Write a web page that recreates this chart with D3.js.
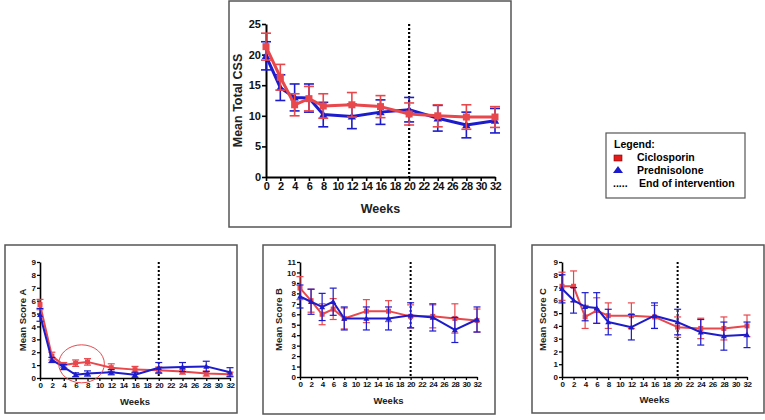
<!DOCTYPE html>
<html><head><meta charset="utf-8">
<script src="https://cdn.jsdelivr.net/npm/d3@7"></script>
<style>body{margin:0;background:#fff;font-family:Arial,"Liberation Sans",sans-serif;}</style>
</head><body>
<svg id="c" width="765" height="420"></svg>
<script>
const weeks = [0,2,4,6,8,12,16,20,24,28,32];
const xTicks = [0,2,4,6,8,10,12,14,16,18,20,22,24,26,28,30,32];
const interventionEnd = 20;

const cssCiclo   = [21.3,16.3,11.8,12.8,11.6,11.8,11.5,10.3,10.0,9.8,9.8];
const cssCicloE  = [2.2,2.1,1.8,2.0,2.0,2.0,1.8,1.8,1.8,2.0,1.7];
const cssPred    = [19.8,14.6,13.0,12.9,10.2,9.9,10.6,11.0,9.6,8.5,9.2];
const cssPredE   = [2.3,2.1,2.2,2.3,2.0,2.0,2.0,2.0,2.1,2.1,2.0];
const cssTicks   = [0,5,10,15,20,25];

const aCiclo  = [5.7,1.7,1.0,1.15,1.25,0.8,0.65,0.6,0.5,0.35,0.3];
const aCicloE = [0.4,0.3,0.2,0.25,0.25,0.3,0.25,0.25,0.2,0.2,0.15];
const aPred   = [4.9,1.4,0.85,0.25,0.35,0.45,0.25,0.8,0.85,0.9,0.45];
const aPredE  = [0.5,0.2,0.2,0.15,0.2,0.2,0.2,0.4,0.35,0.4,0.35];
const aTicks  = [0,1,2,3,4,5,6,7,8,9];

const bCiclo  = [8.5,7.3,6.0,6.5,5.6,6.3,6.3,5.8,5.8,5.6,5.4];
const bCicloE = [1.1,1.1,1.0,1.0,1.0,1.1,1.0,1.1,1.1,1.4,1.1];
const bPred   = [7.7,7.2,6.7,7.2,5.6,5.6,5.6,5.9,5.7,4.5,5.5];
const bPredE  = [1.1,1.2,1.3,1.3,1.1,1.1,1.1,1.2,1.3,1.2,1.2];
const bTicks  = [0,1,2,3,4,5,6,7,8,9,10,11];

const cCiclo  = [7.1,7.1,4.7,5.2,4.8,4.8,4.7,3.9,3.8,3.8,4.0];
const cCicloE = [1.1,1.2,0.9,1.0,1.0,1.0,0.9,0.8,0.8,0.9,0.85];
const cPred   = [6.9,6.0,5.5,5.4,4.3,3.9,4.8,4.3,3.5,3.2,3.3];
const cPredE  = [1.1,1.0,1.1,1.2,1.0,1.0,1.0,1.0,1.0,1.1,1.0];
const cTicks  = [0,1,2,3,4,5,6,7,8,9];

const legendTitle = "Legend:";
const legendLabels = ["Ciclosporin","Prednisolone","End of intervention"];

const RED = "#e8474c", BLUE = "#1c1ccc";
const svg = d3.select("#c");

function panel(o) {
  // frame
  svg.append("rect").attr("x", o.box[0]).attr("y", o.box[1])
    .attr("width", o.box[2]-o.box[0]).attr("height", o.box[3]-o.box[1])
    .attr("fill","none").attr("stroke","#555").attr("stroke-width",1.5);
  const x = d3.scaleLinear().domain([0,32]).range([o.x0, o.x1]);
  const y = d3.scaleLinear().domain([0, o.ymax]).range([o.y0, o.y1]);
  const g = svg.append("g");
  // axes
  const xa = g.append("g").attr("transform",`translate(0,${o.y0})`)
    .call(d3.axisBottom(x).tickValues(xTicks).tickSize(o.tick).tickPadding(1).tickSizeOuter(0));
  const ya = g.append("g").attr("transform",`translate(${o.x0},0)`)
    .call(d3.axisLeft(y).tickValues(o.yTicks).tickSize(o.tick).tickPadding(1).tickSizeOuter(0));
  [xa,ya].forEach(a=>{
    a.select(".domain").attr("stroke","#000").attr("stroke-width",o.aw);
    a.selectAll(".tick line").attr("stroke","#000").attr("stroke-width",o.aw*0.8);
    a.selectAll("text").attr("font-family","Arial, Liberation Sans").attr("font-weight","bold")
      .attr("font-size",o.fs).attr("fill","#111");
  });
  xa.selectAll("text").attr("dy","0.75em").attr("letter-spacing", o.ls);
  // titles
  g.append("text").attr("x",(o.x0+o.x1)/2).attr("y",o.wy).attr("text-anchor","middle")
    .attr("font-weight","bold").attr("font-size",o.tfs).attr("fill","#222").text("Weeks");
  g.append("text").attr("transform",`translate(${o.ylx},${(o.y0+o.y1)/2}) rotate(-90)`)
    .attr("text-anchor","middle").attr("font-weight","bold").attr("font-size",o.tfs).attr("fill","#222").text(o.ylabel);
  // dotted line
  g.append("line").attr("x1",x(interventionEnd)).attr("x2",x(interventionEnd))
    .attr("y1",y(o.ymax)).attr("y2",y(0)).attr("stroke","#000").attr("stroke-width",o.dw)
    .attr("stroke-dasharray",o.dash);
  // series
  const series = [
    {v:o.pred, e:o.predE, c:BLUE, m:"tri"},
    {v:o.ciclo, e:o.cicloE, c:RED, m:"sq"}
  ];
  const order = o.redOnTop ? series : [series[1], series[0]];
  order.forEach(s=>{
    const sg = g.append("g");
    const line = d3.line().x((d,i)=>x(weeks[i])).y(d=>y(d));
    sg.append("path").attr("d",line(s.v)).attr("fill","none").attr("stroke",s.c)
      .attr("stroke-width",o.lw).attr("stroke-linejoin","round");
    s.v.forEach((v,i)=>{
      const cx=x(weeks[i]), t=y(v+s.e[i]), b=y(Math.max(0,v-s.e[i]));
      sg.append("line").attr("x1",cx).attr("x2",cx).attr("y1",t).attr("y2",b)
        .attr("stroke",s.c).attr("stroke-width",o.ew);
      [t,b].forEach(yy=>sg.append("line").attr("x1",cx-o.cap).attr("x2",cx+o.cap)
        .attr("y1",yy).attr("y2",yy).attr("stroke",s.c).attr("stroke-width",o.ew));
      const ms=o.ms;
      if(s.m==="sq") sg.append("rect").attr("x",cx-ms/2).attr("y",y(v)-ms/2)
        .attr("width",ms).attr("height",ms).attr("fill",s.c);
      else sg.append("path").attr("d",`M${cx},${y(v)-ms*0.6}L${cx+ms*0.6},${y(v)+ms*0.45}L${cx-ms*0.6},${y(v)+ms*0.45}Z`).attr("fill",s.c);
    });
  });
  return {x,y,g};
}

panel({box:[229,1,511,227], x0:266, x1:495, y0:177, y1:24, ymax:25, yTicks:cssTicks,
  ciclo:cssCiclo, cicloE:cssCicloE, pred:cssPred, predE:cssPredE, ylabel:"Mean Total CSS",
  tick:4, aw:2, fs:11, tfs:12.5, ls:-0.6, wy:213, ylx:242, lw:3, ew:1.6, cap:5, ms:7, dw:2.2, dash:"2,2", redOnTop:true});

const pa = panel({box:[5,245,237,413], x0:40, x1:230, y0:378, y1:262, ymax:9, yTicks:aTicks,
  ciclo:aCiclo, cicloE:aCicloE, pred:aPred, predE:aPredE, ylabel:"Mean Score A",
  tick:3, aw:1.6, fs:8, tfs:9.5, ls:-0.5, wy:405, ylx:26, lw:2, ew:1.2, cap:3.5, ms:5, dw:2, dash:"2,2", redOnTop:false});
// highlight ellipse around weeks 6-8 (Ciclosporin)
pa.g.append("ellipse").attr("cx",pa.x(7)).attr("cy",pa.y(1.1)).attr("rx",pa.x(3)-pa.x(0)+5).attr("ry",19)
  .attr("fill","none").attr("stroke",RED).attr("stroke-width",1);

panel({box:[263,245,495,414], x0:300, x1:477, y0:377, y1:262, ymax:11, yTicks:bTicks,
  ciclo:bCiclo, cicloE:bCicloE, pred:bPred, predE:bPredE, ylabel:"Mean Score B",
  tick:3, aw:1.6, fs:8, tfs:9.5, ls:-0.5, wy:404, ylx:282, lw:2, ew:1.2, cap:3.5, ms:5, dw:2, dash:"2,2", redOnTop:false});

panel({box:[532,245,764,413], x0:562, x1:747, y0:377, y1:262, ymax:9, yTicks:cTicks,
  ciclo:cCiclo, cicloE:cCicloE, pred:cPred, predE:cPredE, ylabel:"Mean Score C",
  tick:3, aw:1.6, fs:8, tfs:9.5, ls:-0.5, wy:403, ylx:546, lw:2, ew:1.2, cap:3.5, ms:5, dw:2, dash:"2,2", redOnTop:false});

// legend
const lg = svg.append("g");
lg.append("rect").attr("x",606).attr("y",133).attr("width",139).attr("height",65)
  .attr("fill","#fff").attr("stroke","#555").attr("stroke-width",1.2);
lg.append("text").attr("x",614).attr("y",148).attr("font-weight","bold").attr("font-size",10.5).text(legendTitle);
lg.append("rect").attr("x",614).attr("y",155).attr("width",8).attr("height",6).attr("fill","#e21b1b").attr("stroke","#800").attr("stroke-width",0.6);
lg.append("path").attr("d","M618,166L623,173L613,173Z").attr("fill","#1a1acc");
lg.append("text").attr("x",613).attr("y",187).attr("font-weight","bold").attr("font-size",10.5).text(".....");
[["Ciclosporin",637,161],["Prednisolone",637,174],["End of intervention",639,187]].forEach((d,i)=>{
  lg.append("text").attr("x",d[1]).attr("y",d[2]).attr("font-weight","bold").attr("font-size",10.5).text(legendLabels[i]);
});
</script>
</body></html>
